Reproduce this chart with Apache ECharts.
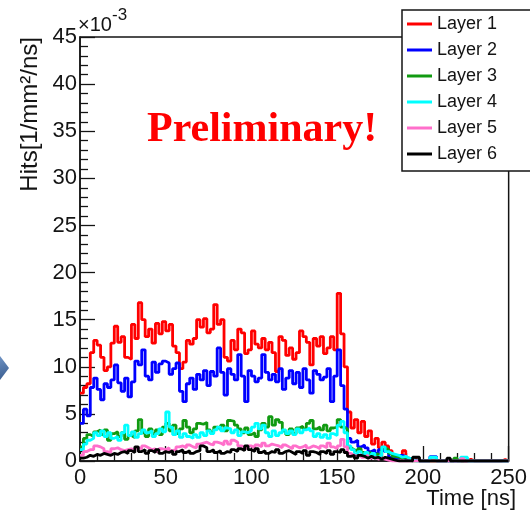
<!DOCTYPE html>
<html>
<head>
<meta charset="utf-8">
<script src="https://cdn.jsdelivr.net/npm/echarts@6/dist/echarts.min.js"></script>
<style>
  html, body { margin: 0; padding: 0; background: #ffffff; }
  #chart { width: 530px; height: 514px; }
</style>
</head>
<body>
<div id="chart"></div>
<script>
// Hit-rate histograms per detector layer, 2 ns bins from 0 to 250 ns (units of 1e-3 hits/mm^2/ns)
const binWidth = 2;
const xTicks = [0, 50, 100, 150, 200, 250];
const yTicks = [0, 5, 10, 15, 20, 25, 30, 35, 40, 45];
const layerNames = ['Layer 1', 'Layer 2', 'Layer 3', 'Layer 4', 'Layer 5', 'Layer 6'];
const layerColors = ['#ff0000', '#0000ff', '#119a11', '#00ffff', '#ff6fcb', '#000000'];

const layer1 = [
  7.2, 7.8, 8.2, 11.5, 12.8, 12.3, 11.0, 9.6, 10.0, 12.5,
  14.3, 12.6, 13.2, 11.0, 10.8, 14.5, 13.0, 16.8, 15.0, 13.2,
  14.0, 12.5, 14.6, 13.5, 14.8, 13.8, 14.5, 12.2, 11.5, 9.8,
  10.5, 12.8, 12.4, 13.0, 15.0, 14.2, 15.1, 13.6, 14.0, 16.6,
  14.5, 15.0, 11.0, 10.6, 12.8, 11.8, 14.0, 13.6, 11.4, 11.8,
  13.8, 12.4, 12.0, 13.0, 11.8, 12.6, 11.5, 9.5, 13.2, 12.8,
  11.2, 12.0, 10.8, 11.5, 13.8, 13.2, 12.6, 10.2, 13.0, 12.2,
  13.2, 11.4, 12.0, 13.2, 11.8, 17.8, 13.5, 10.0, 5.2, 3.5,
  4.4, 3.0, 4.2, 2.6, 3.2, 1.8, 2.4, 1.4, 2.0, 1.6,
  1.1, 0.7, 0.4, 0.3, 1.1, 0.3, 0.2, 0.2, 0, 0,
  0, 0, 0, 0, 0, 0, 0, 0, 0, 0,
  0, 0, 0, 0.2, 0, 0, 0, 0, 0, 0,
  0, 0, 0, 0.15, 0
];
const layer2 = [
  4.0, 5.5, 4.8, 7.8, 8.8, 7.6, 6.5, 8.2, 7.8, 8.6,
  10.2, 8.3, 7.4, 8.8, 6.8, 8.4, 10.6, 10.2, 11.8, 9.0,
  8.6, 10.5, 9.4, 10.3, 10.6, 10.4, 9.2, 9.8, 10.4, 7.4,
  6.3, 8.2, 8.8, 7.6, 9.2, 8.6, 9.6, 8.0, 9.5, 9.0,
  12.0, 9.4, 7.0, 9.8, 9.2, 8.6, 11.3, 9.0, 6.3, 9.6,
  9.0, 8.4, 8.8, 11.3, 9.4, 8.6, 9.2, 8.4, 9.8, 7.6,
  8.8, 9.6, 8.2, 9.4, 7.8, 9.8, 8.6, 7.2, 9.6, 9.2,
  8.6, 8.9, 9.8, 6.3, 9.0, 11.8, 8.0, 5.5, 2.4, 2.0,
  2.2, 1.5, 1.7, 1.4, 1.0, 1.2, 0.8, 1.2, 1.0, 1.2,
  0.4, 0.3, 0.2, 0.6, 0.5, 0.1, 0, 0.1, 0, 0,
  0, 0, 0.45, 0.45, 0, 0, 0, 0, 0, 0,
  0, 0, 0, 0, 0, 0, 0, 0, 0, 0,
  0, 0, 0, 0, 0
];
const layer3 = [
  1.5, 2.4, 2.8, 2.6, 3.1, 3.3, 2.8, 3.3, 2.2, 2.9,
  3.1, 2.6, 3.0, 2.3, 2.7, 2.5, 3.2, 4.4, 3.0, 2.6,
  3.4, 2.9, 3.3, 2.8, 3.6, 4.0, 3.2, 3.8, 2.9, 3.4,
  4.3, 3.6, 3.0, 3.4, 4.0, 3.9, 4.1, 3.3, 3.0, 3.6,
  3.4, 3.8, 3.2, 4.3, 4.2, 3.8, 3.4, 3.0, 3.5, 2.8,
  3.0, 2.6, 3.3, 4.0, 3.6, 4.7, 3.8, 4.4, 4.1, 3.2,
  2.8, 3.4, 2.9, 3.5, 3.7, 3.4, 4.0, 4.3, 3.4, 3.6,
  3.3, 3.8, 3.2, 3.5, 3.6, 4.4, 3.6, 3.4, 1.4, 1.2,
  1.0, 1.3, 0.9, 0.8, 0.9, 0.6, 0.8, 0.5, 1.4, 1.2,
  0.8, 0.5, 0.4, 0.3, 0.4, 0.2, 0, 0, 0, 0,
  0, 0, 0, 0, 0, 0, 0, 0, 0, 0.3,
  0, 0, 0, 0, 0, 0, 0, 0, 0, 0,
  0, 0, 0, 0, 0
];
const layer4 = [
  1.2, 1.8, 2.2, 2.4, 3.0, 2.7, 3.2, 2.6, 3.0, 2.4,
  2.6, 2.2, 3.0, 3.8, 2.7, 3.1, 2.5, 2.9, 3.3, 3.0,
  3.2, 2.6, 2.9, 3.4, 3.1, 5.2, 3.6, 2.8, 3.2, 2.5,
  2.9, 2.6, 2.4, 2.8, 2.5, 3.0, 2.7, 3.2, 2.9, 3.3,
  3.6, 3.2, 3.5, 3.4, 3.0, 3.3, 2.7, 3.1, 3.0, 3.2,
  3.6, 4.0, 3.4, 3.8, 3.0, 2.6, 3.2, 2.7, 3.0, 3.3,
  2.9, 3.2, 2.8, 3.4, 3.0, 3.3, 3.5, 3.2, 2.6, 2.9,
  2.5, 2.8, 2.4, 2.9, 2.7, 3.8, 4.2, 3.0, 1.6, 1.2,
  0.7, 1.0, 0.6, 0.9, 0.5, 0.8, 0.4, 0.6, 1.5, 1.0,
  0.8, 0.7, 0.6, 0.4, 0.5, 0.3, 0.2, 0, 0, 0,
  0, 0, 0.4, 0.4, 0, 0, 0, 0, 0, 0,
  0, 0.4, 0.4, 0, 0, 0, 0, 0, 0, 0,
  0, 0, 0, 0, 0
];
const layer5 = [
  0.6, 1.0, 1.2, 1.2, 1.6, 1.5, 1.3, 1.0, 0.9, 1.3,
  1.4, 1.2, 1.1, 1.2, 1.3, 1.1, 1.4, 1.3, 1.6, 1.4,
  1.2, 1.3, 1.0, 1.3, 1.2, 1.4, 1.1, 1.2, 1.5, 1.6,
  1.4, 1.7, 1.5, 1.4, 1.8, 1.9, 2.0, 1.8, 1.7, 2.0,
  1.9, 1.7, 2.1, 1.8, 2.2, 2.0, 1.6, 1.5, 1.3, 1.6,
  1.4, 1.7, 1.5, 1.9, 1.6, 1.8, 1.7, 1.6, 1.4, 1.7,
  1.5, 1.3, 1.6, 1.4, 1.5, 1.7, 1.4, 1.6, 1.5, 1.3,
  1.6, 1.4, 1.9, 1.5, 1.3, 1.6, 2.3, 1.5, 0.8, 0.6,
  0.5, 0.7, 0.4, 0.6, 0.3, 0.4, 0.2, 0.3, 0.2, 0.1,
  0, 0, 0, 0, 0, 0, 0, 0, 0, 0,
  0, 0, 0, 0, 0, 0, 0, 0, 0, 0,
  0, 0.25, 0, 0, 0, 0, 0, 0, 0, 0,
  0, 0, 0, 0, 0
];
const layer6 = [
  0.3, 0.4, 0.6, 0.5, 0.7, 0.6, 0.8, 0.7, 0.6, 0.8,
  0.7, 0.9, 1.0, 0.8, 1.1, 0.9, 1.5, 1.0, 1.2, 0.8,
  1.1, 0.9, 1.2, 0.8, 1.0, 0.9, 1.1, 0.7, 1.0, 1.2,
  0.9, 1.1, 0.8, 1.0, 1.1, 1.6, 1.4, 1.0, 1.2, 0.9,
  1.1, 0.8, 1.0, 0.9, 1.2, 1.0, 1.3, 1.1, 1.6, 1.2,
  1.0, 1.3, 0.9, 1.1, 0.8, 1.0, 0.9, 1.2, 0.8, 1.0,
  1.1, 0.9, 0.7, 1.0, 0.8, 1.1, 0.6, 1.0, 0.9, 0.7,
  1.0, 0.8, 1.1, 0.7, 1.0, 0.9, 1.2, 0.9, 0.5, 0.6,
  0.3, 0.6, 0.5, 0.3, 0.5, 0.3, 0.4, 0.2, 0.4, 0.3,
  0.2, 0.1, 0, 0, 0, 0, 0, 0.4, 0.4, 0,
  0, 0, 0, 0, 0, 0, 0, 0.3, 0, 0,
  0, 0, 0, 0, 0, 0, 0, 0, 0, 0,
  0, 0, 0, 0, 0
];
const layers = [layer1, layer2, layer3, layer4, layer5, layer6];

// Step outline: one point at each bin's low edge, plus the closing edge of the last bin
function histPoints(values) {
  const pts = values.map((v, i) => [i * binWidth, v]);
  pts.push([values.length * binWidth, values[values.length - 1]]);
  return pts;
}

const axisFont = 'Liberation Sans, Arial, Helvetica, sans-serif';
const ink = '#141414';

const chart = echarts.init(document.getElementById('chart'), null, { renderer: 'canvas' });

chart.setOption({
  animation: false,
  backgroundColor: '#ffffff',
  grid: {
    left: 80, right: 13, top: 37, bottom: 53,
    show: true, borderColor: ink, borderWidth: 1.5, backgroundColor: 'transparent'
  },
  xAxis: {
    type: 'value',
    min: xTicks[0], max: xTicks[xTicks.length - 1], interval: xTicks[1] - xTicks[0],
    axisLine: { show: true, lineStyle: { color: ink, width: 1.5 } },
    axisTick: { show: true, inside: true, length: 15, lineStyle: { color: ink, width: 1.3 } },
    minorTick: { show: true, splitNumber: 5, length: 8, lineStyle: { color: ink, width: 1.3 } },
    splitLine: { show: false },
    axisLabel: { fontFamily: axisFont, fontSize: 22, color: ink, margin: 6 }
  },
  yAxis: {
    type: 'value',
    min: yTicks[0], max: yTicks[yTicks.length - 1], interval: yTicks[1] - yTicks[0],
    axisLine: { show: true, lineStyle: { color: ink, width: 1.5 } },
    axisTick: { show: true, inside: true, length: 15, lineStyle: { color: ink, width: 1.3 } },
    minorTick: { show: true, splitNumber: 5, length: 8, lineStyle: { color: ink, width: 1.3 } },
    splitLine: { show: false },
    axisLabel: { fontFamily: axisFont, fontSize: 22, color: ink, margin: 3 }
  },
  legend: {
    orient: 'vertical',
    left: 402, top: 10,
    padding: [5, 70, 8, 5],
    itemWidth: 25, itemHeight: 3, itemGap: 8,
    icon: 'rect',
    backgroundColor: '#ffffff',
    borderColor: ink, borderWidth: 1.5,
    textStyle: { fontFamily: axisFont, fontSize: 18, lineHeight: 18, color: ink },
    data: layerNames
  },
  series: layers.map((vals, k) => ({
    name: layerNames[k],
    type: 'line',
    step: 'end',
    showSymbol: false,
    symbol: 'none',
    clip: true,
    color: layerColors[k],
    lineStyle: { color: layerColors[k], width: 2.8 },
    data: histPoints(vals),
    z: 2 + k
  })),
  graphic: [
    // axis titles and exponent
    {
      type: 'text', left: 78, top: 15, z: 10,
      style: { text: '×10', font: '20px ' + axisFont, fill: ink }
    },
    {
      type: 'text', left: 112, top: 7, z: 10,
      style: { text: '-3', font: '17px ' + axisFont, fill: ink }
    },
    {
      type: 'text', x: 30, y: 37, rotation: Math.PI / 2, z: 10,
      style: {
        text: 'Hits[1/mm²/ns]', font: '24px ' + axisFont, fill: ink,
        align: 'right', verticalAlign: 'middle'
      }
    },
    {
      type: 'text', x: 516, y: 499, z: 10,
      style: {
        text: 'Time [ns]', font: '22px ' + axisFont, fill: ink,
        align: 'right', verticalAlign: 'middle'
      }
    },
    // watermark
    {
      type: 'text', x: 147, y: 109, z: 10,
      style: {
        text: 'Preliminary!', font: 'bold 42px "Liberation Serif", "Times New Roman", serif',
        fill: '#ff0000', align: 'left', verticalAlign: 'top'
      }
    },
    // arrow tip at the left margin
    {
      type: 'polygon', z: 10,
      shape: { points: [[0, 356], [9, 368], [0, 380]] },
      style: {
        fill: new echarts.graphic.LinearGradient(0, 0, 1, 1, [
          { offset: 0, color: '#6f93c4' },
          { offset: 1, color: '#36598c' }
        ])
      }
    }
  ]
});
</script>
</body>
</html>
